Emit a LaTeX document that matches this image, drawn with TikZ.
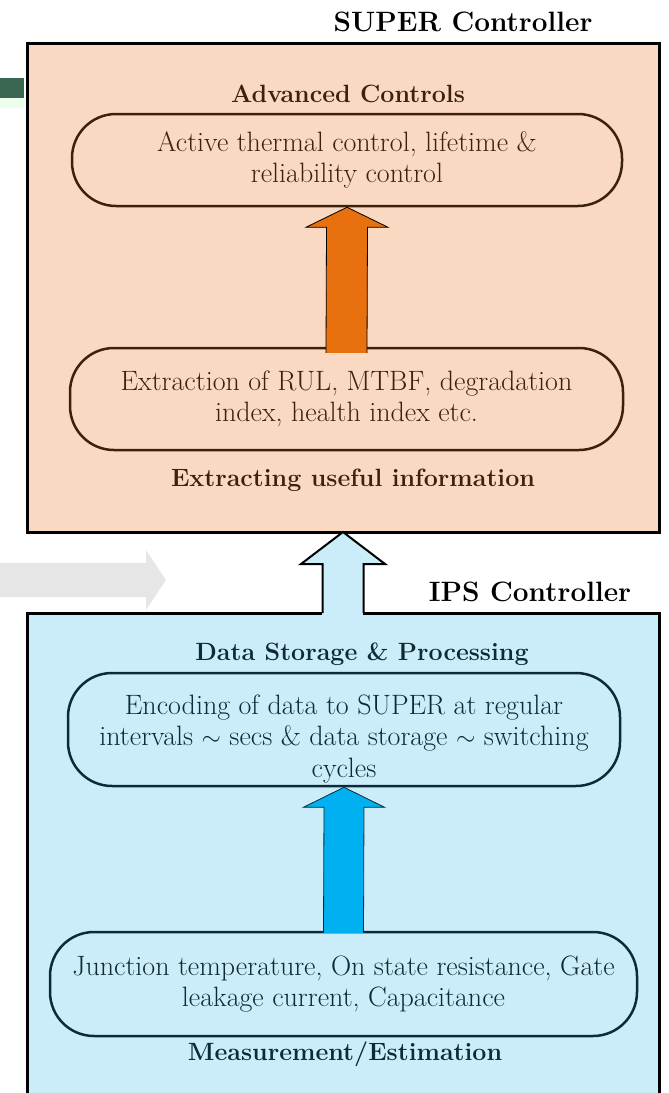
\documentclass[tikz,border=0pt]{standalone}
\usepackage{tikz}
\usetikzlibrary{calc}
\definecolor{superfill}{HTML}{F9D9C1}
\definecolor{ipsfill}{HTML}{CBEDF9}
\definecolor{brownline}{HTML}{3C220E}
\definecolor{navyline}{HTML}{0E2A36}
\definecolor{arroworange}{HTML}{E8700F}
\definecolor{arrowblue}{HTML}{00B0F0}
\definecolor{leftgreen}{HTML}{3B6651}
\definecolor{leftgray}{HTML}{E6E6E6}
\newcommand{\bodysize}{\fontsize{28}{31.5}\selectfont}
\newcommand{\headsize}{\bfseries\fontsize{25}{29}\selectfont}

\begin{document}
\begin{tikzpicture}[x=1pt, y=-1pt, line join=miter,
    pill/.style={draw, line width=2.5pt, rounded corners=44pt, align=center, font=\bodysize, inner sep=0pt},
    blockarrow/.style={draw=black, line width=0.8pt},
    title/.style={font=\bfseries\fontsize{28}{31}\selectfont}]
    \useasboundingbox (0,0) rectangle (669,1093);

    % leftovers of the slide behind
    \fill[leftgreen] (0,78) rectangle (24,98);
    \fill[green!8] (0,98) rectangle (24,108);
    \fill[leftgray] (0,563) -- (146,563) -- (146,550) -- (166,580) -- (146,610) -- (146,597) -- (0,597) -- cycle;

    % SUPER controller
    \draw[fill=superfill, line width=3pt] (27,43) rectangle (659,532);
    \node[title] (supertitle) at (463,22) {SUPER Controller};
    \node[font=\headsize, text=brownline] (advtitle) at (348,94) {Advanced Controls};
    \node[pill, draw=brownline, text=brownline, minimum width=550pt, minimum height=92pt] (adv) at (347,160)
        {Active thermal control, lifetime \&\\ reliability control};
    \node[pill, draw=brownline, text=brownline, minimum width=553pt, minimum height=102pt] (ext) at (346.5,399)
        {Extraction of RUL, MTBF, degradation\\ index, health index etc.};
    \node[font=\headsize, text=brownline] (exttitle) at (353,480) {Extracting useful information};
    \draw[blockarrow, fill=arroworange] ($(ext.north)+(-20.5,6)$) -- ($(adv.south)+(-20.5,20)$)
        -- ($(adv.south)+(-41,20)$) -- (adv.south) -- ($(adv.south)+(41,20)$)
        -- ($(adv.south)+(20.5,20)$) -- ($(ext.north)+(20.5,6)$);

    % IPS controller
    \fill[ipsfill] (27,613) rectangle (659,1093);
    \draw[line width=3pt] (27,1093) -- (27,613) -- (322,613);
    \draw[line width=3pt] (363,613) -- (659,613) -- (659,1093);
    \node[title] (ipstitle) at (530,592) {IPS Controller};
    \node[font=\headsize, text=navyline] (enctitle) at (362,654) {Data Storage \& Processing};
    \node[pill, draw=navyline, text=navyline, minimum width=552pt, minimum height=113pt] (enc) at (344,729.5)
        {\rule{0pt}{38pt}Encoding of data to SUPER at regular\\ intervals $\sim$ secs \& data storage $\sim$ switching\\ cycles};
    \node[pill, draw=navyline, text=navyline, minimum width=587pt, minimum height=104pt] (meas) at (343.5,984)
        {Junction temperature, On state resistance, Gate\\ leakage current, Capacitance};
    \node[font=\headsize, text=navyline] (meastitle) at (345,1054) {Measurement/Estimation};
    \draw[blockarrow, draw=navyline, fill=arrowblue] ($(meas.north)+(-20,2)$) -- ($(enc.south)+(-20,20)$)
        -- ($(enc.south)+(-40.5,20)$) -- (enc.south) -- ($(enc.south)+(40.5,20)$)
        -- ($(enc.south)+(20,20)$) -- ($(meas.north)+(20,2)$);

    % link between the two controllers
    \coordinate (superbot) at (343,532);
    \coordinate (ipstop) at (343,613);
    \draw[line width=2pt, fill=ipsfill] ($(ipstop)+(-20.5,0)$) -- ($(superbot)+(-20.5,32)$)
        -- ($(superbot)+(-42,32)$) -- (superbot) -- ($(superbot)+(42,32)$)
        -- ($(superbot)+(20.5,32)$) -- ($(ipstop)+(20.5,0)$);
\end{tikzpicture}
\end{document}
